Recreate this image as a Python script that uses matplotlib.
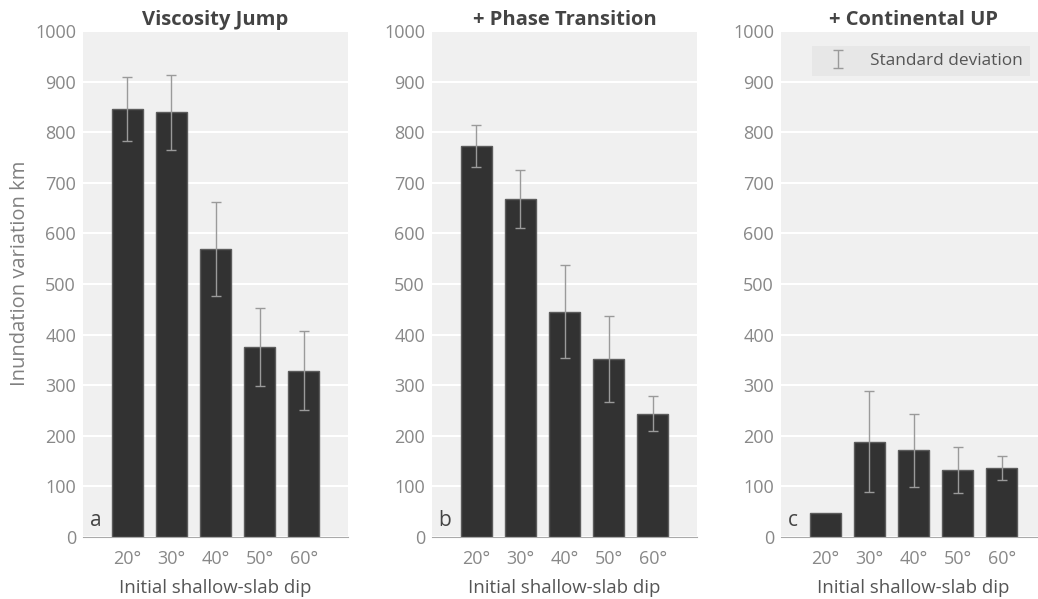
import numpy as np
import matplotlib
matplotlib.use("Agg")
import matplotlib.pyplot as plt

plt.rcParams['font.family'] = ['Open Sans', 'DejaVu Sans']

# data
dips = ['20°', '30°', '40°', '50°', '60°']
titles = ['Viscosity Jump', '+ Phase Transition', '+ Continental UP']
letters = ['a', 'b', 'c']

visc_mean = [846, 839, 569, 376, 329]
visc_std = [63, 75, 93, 77, 78]
phase_mean = [773, 668, 445, 351, 244]
phase_std = [41, 58, 92, 85, 34]
cont_mean = [48, 188, 171, 132, 136]
cont_std = [0, 100, 72, 46, 24]

means = [visc_mean, phase_mean, cont_mean]
stds = [visc_std, phase_std, cont_std]

fig = plt.figure(figsize=(10.38, 5.99), dpi=100)
lefts = [83 / 1038, 432 / 1038, 781 / 1038]
W, H = 265 / 1038, 506 / 599
B = 62 / 599

x = np.arange(len(dips))
for i in range(3):
    ax = fig.add_axes([lefts[i], B, W, H])
    ax.set_facecolor('#f0f0f0')
    ax.set_axisbelow(True)
    ax.grid(axis='y', color='white', lw=1.5)
    ax.bar(x, means[i], width=0.7, color='#323232', edgecolor='#5c5c5c', lw=1, zorder=2)
    yerr = np.array(stds[i], dtype=float)
    show = yerr > 0
    ax.errorbar(x[show], np.array(means[i])[show], yerr=yerr[show], fmt='none',
                ecolor='#9a9a9a', elinewidth=1, capsize=3.6, capthick=1, zorder=3,
                label='Standard deviation')
    ax.set_xlim(-1, 5)
    ax.set_ylim(0, 1000)
    ax.set_yticks(np.arange(0, 1001, 100))
    ax.set_xticks(x)
    ax.set_xticklabels(dips)
    ax.tick_params(length=0, labelsize=13, colors='#888888')
    ax.tick_params(axis='x', pad=9)
    ax.tick_params(axis='y', pad=5)
    for s in ['top', 'right', 'left']:
        ax.spines[s].set_visible(False)
    ax.spines['bottom'].set_color('#aaaaaa')
    ax.set_title(titles[i], fontsize=14.5, fontweight='bold', color='#444444', pad=4)
    ax.set_xlabel('Initial shallow-slab dip', fontsize=13.4, color='#555555', labelpad=8)
    ax.text(0.025, 0.012, letters[i], transform=ax.transAxes, fontsize=15,
            color='#444444', ha='left', va='bottom')
    if i == 0:
        ax.set_ylabel('Inundation variation km', fontsize=14.5, color='#808080')
        ax.yaxis.set_label_coords(-0.20, 0.522)
    if i == 2:
        leg = ax.legend(loc='upper right', bbox_to_anchor=(0.94, 0.97), borderaxespad=0,
                        frameon=True, fontsize=12.4, handlelength=2.2, fancybox=False)
        leg.get_frame().set_facecolor('#e5e5e5')
        leg.get_frame().set_edgecolor('none')
        for t in leg.get_texts():
            t.set_color('#555555')

fig.savefig('out.png', dpi=100)
